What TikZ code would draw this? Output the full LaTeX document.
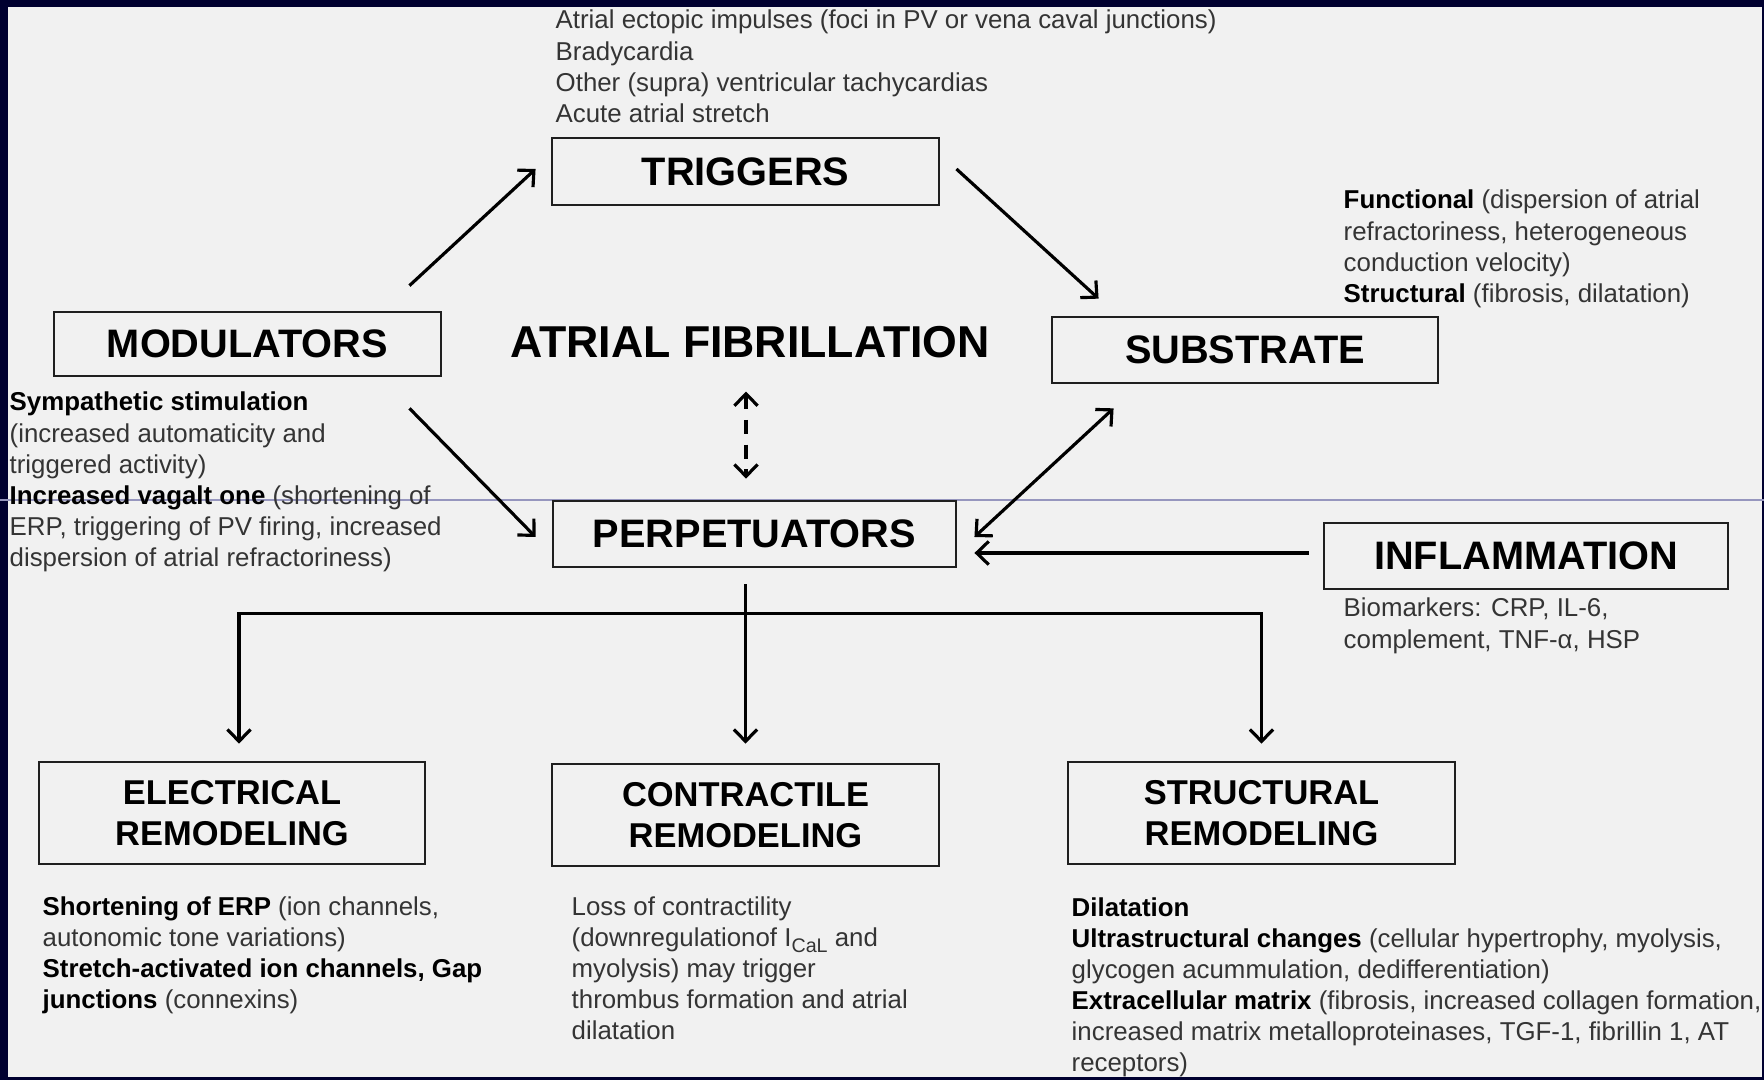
\documentclass[tikz,border=0pt]{standalone}
\usepackage{fontspec}
\setmainfont{Liberation Sans}
\usetikzlibrary{arrows.meta,calc}
\definecolor{navy}{RGB}{0,0,48}
\definecolor{bg}{RGB}{241,241,241}
\definecolor{txtgray}{RGB}{52,52,52}
\definecolor{scan}{RGB}{150,150,190}
\newcommand\bt[1]{{\bfseries\color{black}#1}}
\begin{document}
\begin{tikzpicture}[x=0.01cm,y=-0.01cm,
  box/.style={draw=black!88, line width=0.75pt, inner sep=0pt, text=black,
    font=\fontsize{11.3}{13.4}\selectfont\bfseries},
  bigbox/.style={box, align=center, font=\fontsize{9.8}{11.8}\selectfont\bfseries},
  note/.style={inner sep=0pt, anchor=base west, text=txtgray,
    font=\fontsize{7.35}{8.82}\selectfont},
  tip/.tip={Straight Barb[length=3.4pt,width=6.6pt]},
  arr/.style={line width=0.9pt, -tip},
  dbl/.style={line width=0.9pt, tip-tip},
  darr/.style={line width=0.9pt, tip-tip, dash pattern=on 4pt off 3pt}
]
\useasboundingbox (0,0) rectangle (1764,1080);
\fill[navy] (0,0) rectangle (1764,1080);
\fill[bg] (8,7) rectangle (1762,1077);
\draw[scan, line width=0.3pt] (0,500) -- (1764,500);

% boxes
\node[box, minimum width=3.87cm, minimum height=0.67cm] (trig) at (745.5,171.5) {TRIGGERS};
\node[box, minimum width=3.87cm, minimum height=0.64cm] (mod) at (247.5,344) {MODULATORS};
\node[box, minimum width=3.86cm, minimum height=0.66cm] (sub) at (1245,350) {SUBSTRATE};
\node[box, minimum width=4.03cm, minimum height=0.66cm] (perp) at (754.5,534) {PERPETUATORS};
\node[box, minimum width=4.04cm, minimum height=0.66cm] (infl) at (1526,556) {INFLAMMATION};
\node[bigbox, minimum width=3.86cm, minimum height=1.02cm] (elec) at (232,813) {ELECTRICAL\\REMODELING};
\node[bigbox, minimum width=3.87cm, minimum height=1.02cm] (contr) at (745.5,815) {CONTRACTILE\\REMODELING};
\node[bigbox, minimum width=3.87cm, minimum height=1.02cm] (struct) at (1261.5,813) {STRUCTURAL\\REMODELING};
\node[inner sep=0pt, text=black, font=\fontsize{12.7}{15}\selectfont\bfseries] (af) at (750,342) {ATRIAL FIBRILLATION};

% notes
\node[note] (trigtxt) at (555,29) {\begin{tabular}[t]{@{}l@{}}Atrial ectopic impulses (foci in PV or vena caval junctions)\\Bradycardia\\Other (supra) ventricular tachycardias\\Acute atrial stretch\end{tabular}};
\node[note] (modtxt) at (9,411) {\begin{tabular}[t]{@{}l@{}}\bt{Sympathetic stimulation}\\(increased automaticity and\\triggered activity)\\\bt{Increased vagalt one} (shortening of\\ERP, triggering of PV firing, increased\\dispersion of atrial refractoriness)\end{tabular}};
\node[note] (subtxt) at (1343,209) {\begin{tabular}[t]{@{}l@{}}\bt{Functional} (dispersion of atrial\\refractoriness, heterogeneous\\conduction velocity)\\\bt{Structural} (fibrosis, dilatation)\end{tabular}};
\node[note] (infltxt) at (1343,617) {\begin{tabular}[t]{@{}l@{}}Biomarkers: CRP, IL-6,\\complement, TNF-α, HSP\end{tabular}};
\node[note] (electxt) at (42,915) {\begin{tabular}[t]{@{}l@{}}\bt{Shortening of ERP} (ion channels,\\autonomic tone variations)\\\bt{Stretch-activated ion channels, Gap}\\\bt{junctions} (connexins)\end{tabular}};
\node[note] (contrtxt) at (571,915) {\begin{tabular}[t]{@{}l@{}}Loss of contractility\\(downregulationof I\raisebox{-0.45ex}{\fontsize{5.6}{6}\selectfont CaL} and\\myolysis) may trigger\\thrombus formation and atrial\\dilatation\end{tabular}};
\node[note] (structtxt) at (1071,916) {\begin{tabular}[t]{@{}l@{}}\bt{Dilatation}\\\bt{Ultrastructural changes} (cellular hypertrophy, myolysis,\\glycogen acummulation, dedifferentiation)\\\bt{Extracellular matrix} (fibrosis, increased collagen formation,\\increased matrix metalloproteinases, TGF-1, fibrillin 1, AT\\receptors)\end{tabular}};

% connectors
\draw[arr] ($(mod.north east)+(-33,-25)$) -- ($(trig.west)+(-15,-2.5)$);
\draw[arr] ($(trig.east)+(16,-2.5)$) -- ($(sub.north west)+(48,-17)$);
\draw[arr] ($(mod.south east)+(-33,31)$) -- ($(perp.west)+(-16,3)$);
\draw[dbl] ($(sub.south west)+(63,24)$) -- ($(perp.east)+(17,3)$);
\draw[arr] ($(infl.west)+(-14,-3)$) -- ($(perp.east)+(17,19)$);
\draw[darr] ($(af.south)+(-4,33)$) -- ($(perp.north)+(-8.5,-21)$);

\coordinate (fk) at ($(perp.south -| contr.north)+(0,45)$);
\draw[arr] ($(perp.south -| contr.north)+(0,16)$) -- ($(contr.north)+(0,-19)$);
\draw[arr] (fk) -| ($(elec.north)+(7,-17)$);
\draw[arr] (fk) -| ($(struct.north)+(0,-17)$);
\end{tikzpicture}
\end{document}
